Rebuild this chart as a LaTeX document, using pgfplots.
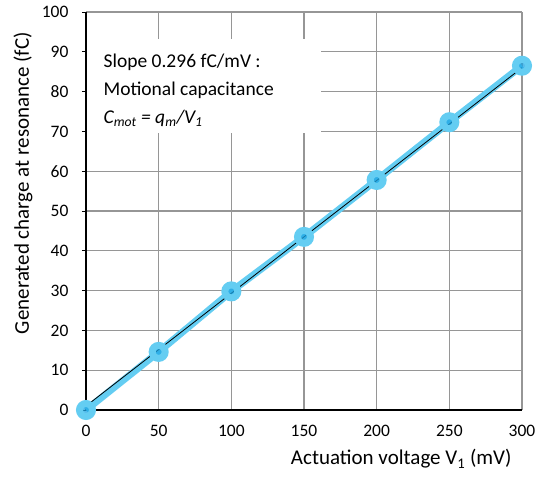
\documentclass[border=0pt]{standalone}
\usepackage{pgfplots}
\pgfplotsset{compat=1.18}
\usepackage{fontspec}
\setmainfont{Carlito}
\definecolor{lineblue}{RGB}{100,205,242}
\definecolor{markblue}{RGB}{30,165,228}
\definecolor{gridgray}{RGB}{150,150,150}
\begin{document}
\begin{tikzpicture}
\begin{axis}[
  scale only axis,
  width=436pt, height=398pt,
  xmin=0, xmax=300, ymin=0, ymax=100,
  xtick={0,50,...,300}, ytick={0,10,...,100},
  axis lines*=left,
  axis line style={black, line width=1.2pt},
  grid=major,
  major grid style={gridgray, line width=1.3pt},
  /pgf/number format/assume math mode=true,
  tick label style={font=\fontsize{17.5}{19}\selectfont},
  xtick style={draw=none},
  ytick style={black, line width=0.8pt},
  tick align=outside,
  major tick length=4pt,
  xticklabel style={yshift=-8pt},
  yticklabel style={xshift=-10pt},
  xlabel={Actuation voltage V\textsubscript{1} (mV)},
  ylabel={Generated charge at resonance (fC)},
  label style={font=\fontsize{21}{24}\selectfont},
  xlabel style={at={(rel axis cs:1,0)}, anchor=north east, xshift=-7pt, yshift=-36pt},
  ylabel style={at={(rel axis cs:0,0.57)}, anchor=south, yshift=50pt},
  clip=false,
]
\addplot[lineblue, line width=7pt, mark=*, mark size=6.5pt,
  mark options={fill=markblue, draw=none, fill opacity=0.75}]
  coordinates {(0,0) (50,14.6) (100,29.8) (150,43.5) (200,57.8) (250,72.3) (300,86.5)};
\addplot[black, line width=0.8pt] coordinates {(0,1.0) (300,86.0)};
\node[fill=white, anchor=north west, inner sep=0pt, minimum width=234pt, minimum height=94pt] at (axis cs:0.8,93.3) {};
\node[anchor=north west, align=left, font=\fontsize{19.5}{28}\selectfont, inner sep=0pt] at (axis cs:12,89.5)
  {Slope 0.296 fC/mV :\\ Motional capacitance\\ \textit{C\textsubscript{mot} = q\textsubscript{m}/V\textsubscript{1}}};
\end{axis}
\pgfresetboundingbox
\path (-86pt,-67pt) rectangle (460pt,410pt);
\end{tikzpicture}
\end{document}
